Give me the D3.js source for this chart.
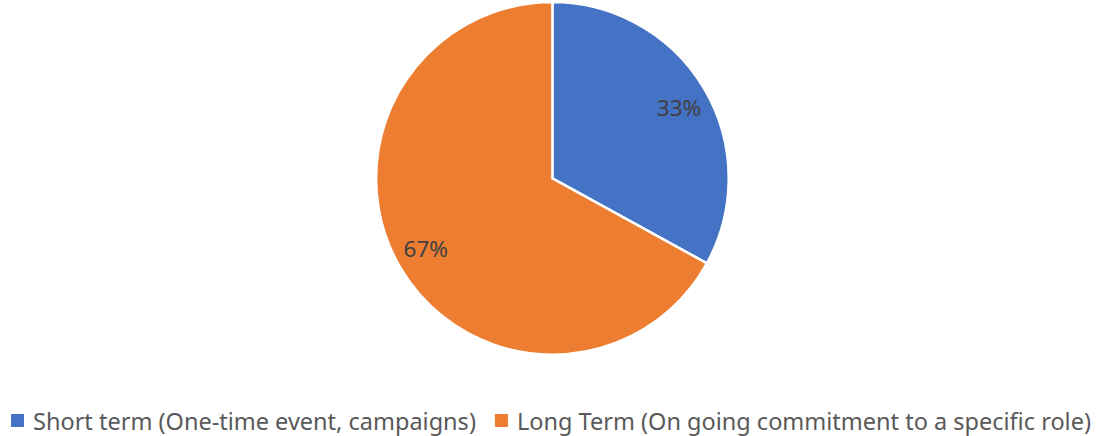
<!DOCTYPE html>
<html>
<head>
<meta charset="utf-8">
<script src="https://cdn.jsdelivr.net/npm/d3@7"></script>
<style>
  html, body { margin: 0; padding: 0; background: #fff; }
  svg { display: block; }
</style>
</head>
<body>
<svg id="chart" width="1102" height="436"></svg>
<script>
// Volunteering commitment type shares
const categories = [
  "Short term (One-time event, campaigns)",
  "Long Term (On going commitment to a specific role)"
];
const values = [33, 67];
const colors = ["#4472C4", "#ED7D31"];

const width = 1102, height = 436;
const cx = 552.4, cy = 178.4, radius = 176.3;
const fontFamily = "'Noto Sans', 'Open Sans', sans-serif";

const svg = d3.select("#chart");

const pie = d3.pie().sort(null).value(d => d.value);
const data = pie(categories.map((c, i) => ({ name: c, value: values[i], color: colors[i] })));

const arc = d3.arc().innerRadius(0).outerRadius(radius);

const g = svg.append("g").attr("transform", `translate(${cx},${cy})`);

g.selectAll("path.slice")
  .data(data)
  .join("path")
  .attr("class", "slice")
  .attr("d", arc)
  .attr("fill", d => d.data.color)
  .attr("stroke", "#fff")
  .attr("stroke-width", 2.5)
  .attr("stroke-linejoin", "round");

// Percentage labels sit inside each slice, a little past the mid-angle
const labelR = radius * 0.823;
const labelTurn = 1.4 * Math.PI / 180;
const total = d3.sum(values);
g.selectAll("text.pct")
  .data(data)
  .join("text")
  .attr("class", "pct")
  .attr("transform", d => {
    const a = (d.startAngle + d.endAngle) / 2 + labelTurn;
    return `translate(${d3.pointRadial(a, labelR)})`;
  })
  .attr("text-anchor", "middle")
  .attr("dy", "0.36em")
  .attr("font-family", fontFamily)
  .attr("font-size", 22.5)
  .attr("fill", "#404040")
  .text(d => Math.round(d.data.value / total * 100) + "%");

// Legend along the bottom, centred
const legend = svg.append("g");
const sq = 13, gapText = 9, gapItem = 19, fontSize = 23.5;
const items = legend.selectAll("g.item")
  .data(data)
  .join("g")
  .attr("class", "item");

items.append("rect")
  .attr("width", sq)
  .attr("height", sq)
  .attr("y", -sq / 2)
  .attr("fill", d => d.data.color);

items.append("text")
  .attr("x", sq + gapText)
  .attr("y", 9)
  .attr("font-family", fontFamily)
  .attr("font-size", fontSize)
  .attr("fill", "#595959")
  .text(d => d.data.name);

let x = 0;
items.each(function() {
  const w = sq + gapText + d3.select(this).select("text").node().getComputedTextLength();
  d3.select(this).attr("transform", `translate(${x},0)`);
  x += w + gapItem;
});
const legendWidth = x - gapItem;
legend.attr("transform", `translate(${(width - legendWidth) / 2},${420.5})`);
</script>
</body>
</html>
